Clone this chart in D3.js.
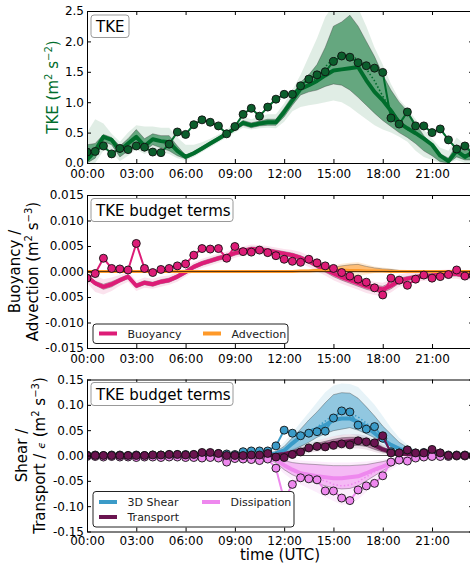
<!DOCTYPE html>
<html>
<head>
<meta charset="utf-8">
<script src="https://cdn.jsdelivr.net/npm/d3@7"></script>
<style>
  body { margin: 0; background: #fff; }
  svg { display: block; font-family: "DejaVu Sans", sans-serif; }
</style>
</head>
<body>
<div id="svg-container"></div>
<script>
////////////////////////////////////////////////////////////////////
////////////////////////////  Data  ////////////////////////////////
// half-hourly time axis (hours UTC)
const hours = [
  0, 0.5, 1, 1.5, 2, 2.5, 3, 3.5, 4, 4.5, 5, 5.5,
  6, 6.5, 7, 7.5, 8, 8.5, 9, 9.5, 10, 10.5, 11, 11.5,
  12, 12.5, 13, 13.5, 14, 14.5, 15, 15.5, 16, 16.5, 17, 17.5,
  18, 18.5, 19, 19.5, 20, 20.5, 21, 21.5, 22, 22.5, 23, 23.5
];
const xTicks = [0, 3, 6, 9, 12, 15, 18, 21];
const xTickLabels = ["00:00", "03:00", "06:00", "09:00", "12:00", "15:00", "18:00", "21:00"];

const tkeTicks = [0, 0.5, 1, 1.5, 2, 2.5];
const budgetTicks = [-0.015, -0.01, -0.005, 0, 0.005, 0.01, 0.015];
const shearTicks = [-0.15, -0.1, -0.05, 0, 0.05, 0.1, 0.15];

// TKE (m2 s-2)
const tkeObs = [
  0.18, 0.19, 0.28, 0.15, 0.24, 0.22, 0.28, 0.26, 0.18, 0.17, 0.31, 0.51,
  0.47, 0.63, 0.71, 0.67, 0.61, 0.48, 0.60, 0.80, 0.90, 0.77, 0.92, 1.05,
  1.13, 1.13, 1.27, 1.38, 1.45, 1.50, 1.67, 1.76, 1.74, 1.65, 1.60, 1.56,
  1.49, 0.74, 0.64, 0.84, 0.61, 0.61, 0.50, 0.56, 0.38, 0.23, 0.28, 0.15
];
const tkeMean = [
  0.05, 0.20, 0.43, 0.38, 0.20, 0.32, 0.43, 0.28, 0.39, 0.36, 0.34, 0.20,
  0.10, 0.16, 0.24, 0.32, 0.40, 0.48, 0.57, 0.66, 0.62, 0.65, 0.67, 0.67,
  0.84, 1.03, 1.22, 1.28, 1.35, 1.44, 1.52, 1.54, 1.56, 1.58, 1.36, 1.17,
  1.03, 0.86, 0.66, 0.57, 0.49, 0.40, 0.30, 0.12, 0.03, 0.20, 0.10, 0.18
];
const tkeMed = [
  0.05, 0.20, 0.43, 0.38, 0.20, 0.32, 0.43, 0.28, 0.39, 0.36, 0.34, 0.20,
  0.10, 0.16, 0.24, 0.32, 0.40, 0.48, 0.57, 0.66, 0.62, 0.65, 0.67, 0.67,
  0.84, 1.03, 1.22, 1.30, 1.40, 1.58, 1.72, 1.78, 1.77, 1.70, 1.55, 1.35,
  1.10, 0.88, 0.70, 0.55, 0.49, 0.40, 0.30, 0.12, 0.03, 0.20, 0.10, 0.18
];
const tkeIqrLo = [
  0.00, 0.08, 0.35, 0.30, 0.10, 0.20, 0.30, 0.20, 0.30, 0.25, 0.20, 0.12,
  0.07, 0.13, 0.21, 0.29, 0.37, 0.45, 0.54, 0.62, 0.58, 0.61, 0.62, 0.62,
  0.76, 0.95, 1.12, 1.17, 1.20, 1.26, 1.30, 1.28, 1.20, 1.08, 0.95, 0.82,
  0.70, 0.60, 0.50, 0.42, 0.32, 0.20, 0.12, 0.02, 0.00, 0.10, 0.05, 0.05
];
const tkeIqrHi = [
  0.30, 0.32, 0.47, 0.42, 0.28, 0.40, 0.55, 0.40, 0.48, 0.45, 0.45, 0.28,
  0.13, 0.19, 0.27, 0.35, 0.43, 0.51, 0.60, 0.70, 0.66, 0.69, 0.72, 0.72,
  0.90, 1.10, 1.33, 1.45, 1.62, 1.90, 2.25, 2.32, 2.43, 2.25, 2.00, 1.75,
  1.45, 1.20, 1.00, 0.85, 0.65, 0.45, 0.30, 0.15, 0.08, 0.30, 0.20, 0.25
];
const tkeRngLo = [
  0.00, 0.00, 0.20, 0.18, 0.03, 0.12, 0.22, 0.15, 0.22, 0.18, 0.15, 0.08,
  0.04, 0.10, 0.18, 0.26, 0.34, 0.42, 0.50, 0.58, 0.55, 0.57, 0.58, 0.57,
  0.68, 0.85, 0.92, 0.95, 0.97, 1.00, 1.03, 1.00, 0.92, 0.82, 0.72, 0.62,
  0.55, 0.50, 0.43, 0.35, 0.20, 0.10, 0.05, 0.00, 0.00, 0.05, 0.00, 0.00
];
const tkeRngHi = [
  0.50, 0.72, 0.65, 0.48, 0.35, 0.50, 0.62, 0.60, 0.60, 0.58, 0.58, 0.42,
  0.30, 0.30, 0.34, 0.40, 0.47, 0.55, 0.65, 0.76, 0.72, 0.76, 0.80, 0.80,
  0.98, 1.20, 1.45, 1.75, 2.05, 2.40, 2.60, 2.65, 2.70, 2.55, 2.25, 1.90,
  1.62, 1.30, 1.05, 0.90, 0.72, 0.55, 0.40, 0.25, 0.20, 0.42, 0.30, 0.30
];

// Buoyancy (m2 s-3)
const buoyObs = [
  -0.0013, -0.0004, 0.0026, 0.0006, 0.0005, 0.0003, 0.0055, 0.0006, -0.0002, 0.0004, 0.0006, 0.0011,
  0.0015, 0.0032, 0.0045, 0.0044, 0.0045, 0.0026, 0.0049, 0.0039, 0.0038, 0.0042, 0.0037, 0.0031,
  0.0024, 0.0020, 0.0018, 0.0024, 0.0017, 0.0011, 0.0006, -0.0002, -0.0009, -0.0015, -0.0021, -0.0032,
  -0.0046, -0.0013, -0.0017, -0.0027, -0.0015, -0.0007, -0.0013, -0.0010, -0.0006, 0.0003, -0.0009, -0.0008
];
const buoyMean = [
  -0.0010, -0.0023, -0.0030, -0.0025, -0.0017, -0.0010, -0.0028, -0.0022, -0.0025, -0.0020, -0.0017, -0.0010,
  -0.0001, 0.0009, 0.0016, 0.0021, 0.0026, 0.0030, 0.0036, 0.0040, 0.0044, 0.0043, 0.0041, 0.0038,
  0.0035, 0.0032, 0.0027, 0.0020, 0.0012, 0.0004, -0.0004, -0.0011, -0.0017, -0.0023, -0.0029, -0.0033,
  -0.0035, -0.0028, -0.0018, -0.0014, -0.0011, -0.0009, -0.0008, -0.0006, -0.0005, -0.0005, -0.0008, -0.0008
];
const buoyIqrLo = [
  -0.0014, -0.0027, -0.0035, -0.0030, -0.0021, -0.0014, -0.0032, -0.0026, -0.0029, -0.0024, -0.0021, -0.0014,
  -0.0005, 0.0005, 0.0012, 0.0017, 0.0022, 0.0026, 0.0032, 0.0036, 0.0040, 0.0039, 0.0037, 0.0034,
  0.0031, 0.0028, 0.0023, 0.0016, 0.0007, -0.0001, -0.0010, -0.0017, -0.0023, -0.0029, -0.0035, -0.0039,
  -0.0041, -0.0034, -0.0023, -0.0018, -0.0015, -0.0013, -0.0012, -0.0010, -0.0009, -0.0009, -0.0012, -0.0012
];
const buoyIqrHi = [
  -0.0006, -0.0019, -0.0025, -0.0020, -0.0013, -0.0006, -0.0024, -0.0018, -0.0021, -0.0016, -0.0013, -0.0006,
  0.0003, 0.0013, 0.0020, 0.0025, 0.0030, 0.0034, 0.0040, 0.0044, 0.0048, 0.0047, 0.0045, 0.0042,
  0.0039, 0.0036, 0.0031, 0.0024, 0.0017, 0.0009, 0.0002, -0.0005, -0.0011, -0.0017, -0.0023, -0.0027,
  -0.0029, -0.0022, -0.0013, -0.0010, -0.0007, -0.0005, -0.0004, -0.0002, -0.0001, -0.0001, -0.0004, -0.0004
];
const buoyRngLo = [
  -0.0022, -0.0040, -0.0045, -0.0038, -0.0028, -0.0020, -0.0038, -0.0032, -0.0034, -0.0030, -0.0026, -0.0020,
  -0.0010, 0.0000, 0.0007, 0.0012, 0.0017, 0.0021, 0.0027, 0.0031, 0.0035, 0.0034, 0.0032, 0.0029,
  0.0026, 0.0022, 0.0016, 0.0009, 0.0000, -0.0008, -0.0017, -0.0024, -0.0030, -0.0036, -0.0042, -0.0046,
  -0.0048, -0.0041, -0.0030, -0.0025, -0.0020, -0.0018, -0.0017, -0.0015, -0.0014, -0.0014, -0.0017, -0.0017
];
const buoyRngHi = [
  0.0000, -0.0008, -0.0015, -0.0012, -0.0007, 0.0000, -0.0018, -0.0012, -0.0014, -0.0010, -0.0008, 0.0000,
  0.0008, 0.0018, 0.0025, 0.0030, 0.0035, 0.0039, 0.0045, 0.0049, 0.0053, 0.0052, 0.0050, 0.0047,
  0.0044, 0.0042, 0.0038, 0.0031, 0.0024, 0.0016, 0.0009, 0.0002, -0.0004, -0.0010, -0.0016, -0.0020,
  -0.0022, -0.0015, -0.0006, -0.0003, 0.0000, 0.0000, 0.0001, 0.0003, 0.0004, 0.0004, 0.0001, 0.0001
];

// Advection (m2 s-3)
const advMean = [
  0, 0, 0, 0, 0, 0, 0, 0, 0, 0, 0, 0,
  0, 0, 0, 0, 0, 0, 0, 0, 0, 0, 0, 0,
  0, 0, 0.0001, 0.0001, 0.0002, 0.0002, 0.0003, 0.0003, 0.0002, 0.0002, 0.0001, 0.0001,
  0.0001, 0, 0, 0, 0, 0, 0, 0, 0, 0, 0, 0
];
const advIqrLo = [
  -0.0001, -0.0001, -0.0001, -0.0001, -0.0001, -0.0001, -0.0001, -0.0001, -0.0001, -0.0001, -0.0001, -0.0001,
  -0.0001, -0.0001, -0.0001, -0.0001, -0.0001, -0.0001, -0.0001, -0.0001, -0.0001, -0.0001, -0.0001, -0.0001,
  -0.0001, -0.0001, -0.0001, -0.0001, -0.0001, -0.0001, -0.0001, -0.0001, -0.0001, -0.0001, -0.0001, -0.0001,
  -0.0001, -0.0001, -0.0001, -0.0001, -0.0001, -0.0001, -0.0001, -0.0001, -0.0001, -0.0001, -0.0001, -0.0001
];
const advIqrHi = [
  0.0001, 0.0001, 0.0001, 0.0001, 0.0001, 0.0001, 0.0001, 0.0001, 0.0001, 0.0001, 0.0001, 0.0001,
  0.0001, 0.0001, 0.0001, 0.0001, 0.0001, 0.0001, 0.0001, 0.0001, 0.0001, 0.0001, 0.0001, 0.0001,
  0.0001, 0.0001, 0.0002, 0.0002, 0.0004, 0.0006, 0.0008, 0.0011, 0.0013, 0.0014, 0.0010, 0.0007,
  0.0005, 0.0004, 0.0002, 0.0001, 0.0001, 0.0001, 0.0001, 0.0001, 0.0001, 0.0001, 0.0001, 0.0001
];
const advRngLo = [
  -0.0002, -0.0002, -0.0002, -0.0002, -0.0002, -0.0002, -0.0002, -0.0002, -0.0002, -0.0002, -0.0002, -0.0002,
  -0.0002, -0.0002, -0.0002, -0.0002, -0.0002, -0.0002, -0.0002, -0.0002, -0.0002, -0.0002, -0.0002, -0.0002,
  -0.0002, -0.0002, -0.0002, -0.0002, -0.0002, -0.0003, -0.0006, -0.0009, -0.0010, -0.0009, -0.0006, -0.0003,
  -0.0002, -0.0002, -0.0002, -0.0002, -0.0002, -0.0002, -0.0002, -0.0002, -0.0002, -0.0002, -0.0002, -0.0002
];
const advRngHi = [
  0.0002, 0.0002, 0.0002, 0.0002, 0.0002, 0.0002, 0.0002, 0.0002, 0.0002, 0.0002, 0.0002, 0.0002,
  0.0002, 0.0002, 0.0002, 0.0002, 0.0002, 0.0002, 0.0002, 0.0002, 0.0002, 0.0002, 0.0002, 0.0002,
  0.0002, 0.0002, 0.0003, 0.0004, 0.0007, 0.0010, 0.0012, 0.0015, 0.0017, 0.0018, 0.0014, 0.0010,
  0.0008, 0.0006, 0.0004, 0.0003, 0.0002, 0.0002, 0.0002, 0.0002, 0.0002, 0.0002, 0.0002, 0.0002
];

// 3D shear (m2 s-3)
const shearObs = [
  0.001, 0.001, 0.000, 0.001, 0.001, 0.000, 0.001, 0.000, 0.001, 0.001, 0.002, 0.002,
  0.002, 0.002, 0.004, 0.003, 0.004, 0.003, 0.002, 0.0075, 0.009, 0.009, 0.009, 0.019,
  0.050, 0.044, 0.039, 0.044, 0.047, 0.048, 0.074, 0.088, 0.086, 0.060, 0.052, 0.057,
  0.034, 0.0075, 0.005, 0.011, 0.005, 0.006, 0.010, 0.005, 0.001, 0.001, 0.001, 0.000
];
const shearMean = [
  0.001, 0.001, 0.001, 0.001, 0.001, 0.001, 0.001, 0.001, 0.001, 0.001, 0.001, 0.001,
  0.001, 0.001, 0.001, 0.001, 0.001, 0.001, 0.001, 0.001, 0.001, 0.001, 0.002, 0.004,
  0.010, 0.024, 0.037, 0.047, 0.052, 0.060, 0.070, 0.073, 0.073, 0.066, 0.057, 0.044,
  0.031, 0.021, 0.013, 0.008, 0.005, 0.002, 0.001, 0.001, 0.001, 0.001, 0.001, 0.001
];
const shearMed = [
  0.001, 0.001, 0.001, 0.001, 0.001, 0.001, 0.001, 0.001, 0.001, 0.001, 0.001, 0.001,
  0.001, 0.001, 0.001, 0.001, 0.001, 0.001, 0.001, 0.001, 0.001, 0.001, 0.002, 0.004,
  0.010, 0.024, 0.037, 0.048, 0.056, 0.068, 0.080, 0.085, 0.084, 0.076, 0.064, 0.048,
  0.033, 0.021, 0.013, 0.008, 0.005, 0.002, 0.001, 0.001, 0.001, 0.001, 0.001, 0.001
];
const shearIqrLo = [
  0.000, 0.000, 0.000, 0.000, 0.000, 0.000, 0.000, 0.000, 0.000, 0.000, 0.000, 0.000,
  0.000, 0.000, 0.000, 0.000, 0.000, 0.000, 0.000, 0.000, 0.000, 0.000, 0.000, 0.001,
  0.004, 0.010, 0.018, 0.026, 0.036, 0.043, 0.049, 0.052, 0.055, 0.050, 0.043, 0.035,
  0.027, 0.019, 0.011, 0.007, 0.004, 0.001, 0.000, 0.000, 0.000, 0.000, 0.000, 0.000
];
const shearIqrHi = [
  0.002, 0.002, 0.002, 0.002, 0.002, 0.002, 0.002, 0.002, 0.002, 0.002, 0.002, 0.002,
  0.002, 0.002, 0.002, 0.002, 0.002, 0.002, 0.002, 0.002, 0.002, 0.002, 0.004, 0.008,
  0.018, 0.035, 0.052, 0.070, 0.086, 0.104, 0.120, 0.124, 0.123, 0.113, 0.096, 0.078,
  0.058, 0.042, 0.026, 0.016, 0.009, 0.005, 0.002, 0.002, 0.002, 0.002, 0.002, 0.002
];
const shearRngLo = [
  -0.001, -0.001, -0.001, -0.001, -0.001, -0.001, -0.001, -0.001, -0.001, -0.001, -0.001, -0.001,
  -0.001, -0.001, -0.001, -0.001, -0.001, -0.001, -0.001, -0.001, -0.001, -0.001, -0.001, 0.000,
  0.002, 0.006, 0.012, 0.020, 0.028, 0.034, 0.038, 0.040, 0.042, 0.038, 0.032, 0.025,
  0.019, 0.013, 0.007, 0.004, 0.002, 0.000, -0.001, -0.001, -0.001, -0.001, -0.001, -0.001
];
const shearRngHi = [
  0.003, 0.003, 0.003, 0.003, 0.003, 0.003, 0.003, 0.003, 0.003, 0.003, 0.003, 0.003,
  0.003, 0.003, 0.003, 0.003, 0.003, 0.003, 0.003, 0.003, 0.003, 0.003, 0.006, 0.012,
  0.026, 0.045, 0.065, 0.085, 0.105, 0.125, 0.138, 0.142, 0.141, 0.135, 0.118, 0.100,
  0.078, 0.055, 0.035, 0.021, 0.012, 0.007, 0.003, 0.003, 0.003, 0.003, 0.003, 0.003
];

// Transport (m2 s-3)
const transObs = [
  0.000, 0.000, 0.000, 0.000, 0.000, 0.000, 0.000, 0.000, 0.001, 0.001, 0.002, 0.002,
  0.001, 0.002, 0.006, 0.006, 0.004, 0.000, 0.000, 0.000, 0.001, 0.001, 0.004, -0.003,
  -0.004, 0.002, 0.007, 0.015, 0.018, 0.017, 0.020, 0.023, 0.021, 0.029, 0.027, 0.025,
  0.039, 0.005, 0.005, 0.011, 0.005, 0.005, 0.012, 0.005, 0.000, 0.000, 0.000, 0.000
];
const transMean = [
  0.000, 0.000, 0.000, 0.000, 0.000, 0.000, 0.000, 0.000, 0.000, 0.000, 0.000, 0.000,
  0.000, 0.000, 0.000, 0.000, 0.000, 0.000, 0.000, 0.000, 0.000, 0.000, 0.000, 0.001,
  0.003, 0.006, 0.010, 0.014, 0.018, 0.021, 0.024, 0.026, 0.028, 0.030, 0.028, 0.020,
  0.012, 0.007, 0.004, 0.003, 0.002, 0.001, 0.000, 0.000, 0.000, 0.000, 0.000, 0.000
];
const transIqrLo = [
  -0.001, -0.001, -0.001, -0.001, -0.001, -0.001, -0.001, -0.001, -0.001, -0.001, -0.001, -0.001,
  -0.001, -0.001, -0.001, -0.001, -0.001, -0.001, -0.001, -0.001, -0.001, -0.001, -0.001, 0.000,
  0.001, 0.003, 0.006, 0.010, 0.013, 0.015, 0.017, 0.018, 0.019, 0.020, 0.018, 0.012,
  0.007, 0.004, 0.002, 0.001, 0.000, 0.000, -0.001, -0.001, -0.001, -0.001, -0.001, -0.001
];
const transIqrHi = [
  0.001, 0.001, 0.001, 0.001, 0.001, 0.001, 0.001, 0.001, 0.001, 0.001, 0.001, 0.001,
  0.001, 0.001, 0.001, 0.001, 0.001, 0.001, 0.001, 0.001, 0.001, 0.001, 0.002, 0.003,
  0.006, 0.010, 0.014, 0.018, 0.024, 0.028, 0.032, 0.035, 0.036, 0.036, 0.033, 0.026,
  0.017, 0.010, 0.006, 0.005, 0.003, 0.002, 0.001, 0.001, 0.001, 0.001, 0.001, 0.001
];
const transRngLo = [
  -0.002, -0.002, -0.002, -0.002, -0.002, -0.002, -0.002, -0.002, -0.002, -0.002, -0.002, -0.002,
  -0.002, -0.002, -0.002, -0.002, -0.002, -0.002, -0.002, -0.002, -0.002, -0.002, -0.002, -0.001,
  -0.001, 0.000, 0.002, 0.005, 0.008, 0.010, 0.012, 0.013, 0.014, 0.014, 0.012, 0.007,
  0.003, 0.001, 0.000, -0.001, -0.001, -0.001, -0.002, -0.002, -0.002, -0.002, -0.002, -0.002
];
const transRngHi = [
  0.002, 0.002, 0.002, 0.002, 0.002, 0.002, 0.002, 0.002, 0.002, 0.002, 0.002, 0.002,
  0.002, 0.002, 0.002, 0.002, 0.002, 0.002, 0.002, 0.002, 0.002, 0.002, 0.003, 0.005,
  0.009, 0.014, 0.019, 0.024, 0.029, 0.034, 0.038, 0.041, 0.042, 0.042, 0.039, 0.031,
  0.022, 0.014, 0.009, 0.007, 0.005, 0.003, 0.002, 0.002, 0.002, 0.002, 0.002, 0.002
];

// Dissipation (m2 s-3)
const dissObs = [
  -0.002, -0.002, -0.003, -0.002, -0.003, -0.003, -0.004, -0.003, -0.003, -0.004, -0.003, -0.003,
  -0.004, -0.004, -0.005, -0.004, -0.005, -0.013, -0.006, -0.007, -0.008, -0.010, -0.007, -0.025,
  -0.088, -0.057, -0.044, -0.046, -0.048, -0.070, -0.070, -0.084, -0.089, -0.068, -0.060, -0.055,
  -0.040, -0.013, -0.009, -0.011, -0.005, -0.003, -0.002, -0.002, -0.002, -0.001, -0.001, -0.001
];
const dissMean = [
  -0.002, -0.003, -0.003, -0.003, -0.003, -0.003, -0.003, -0.003, -0.003, -0.003, -0.003, -0.003,
  -0.003, -0.003, -0.004, -0.004, -0.004, -0.004, -0.005, -0.005, -0.005, -0.005, -0.006, -0.009,
  -0.019, -0.028, -0.035, -0.038, -0.041, -0.043, -0.045, -0.045, -0.043, -0.041, -0.035, -0.028,
  -0.022, -0.015, -0.009, -0.006, -0.003, -0.002, -0.001, -0.001, -0.001, -0.001, -0.001, -0.001
];
const dissMed = [
  -0.002, -0.003, -0.003, -0.003, -0.003, -0.003, -0.003, -0.003, -0.003, -0.003, -0.003, -0.003,
  -0.003, -0.003, -0.004, -0.004, -0.004, -0.004, -0.005, -0.005, -0.005, -0.005, -0.006, -0.009,
  -0.019, -0.030, -0.038, -0.042, -0.046, -0.050, -0.057, -0.060, -0.058, -0.052, -0.042, -0.032,
  -0.024, -0.015, -0.009, -0.006, -0.003, -0.002, -0.001, -0.001, -0.001, -0.001, -0.001, -0.001
];
const dissIqrLo = [
  -0.005, -0.005, -0.005, -0.005, -0.005, -0.005, -0.005, -0.005, -0.005, -0.005, -0.005, -0.005,
  -0.005, -0.005, -0.005, -0.005, -0.005, -0.005, -0.007, -0.007, -0.007, -0.007, -0.009, -0.014,
  -0.028, -0.038, -0.045, -0.050, -0.055, -0.060, -0.064, -0.066, -0.065, -0.060, -0.050, -0.040,
  -0.030, -0.021, -0.013, -0.009, -0.005, -0.004, -0.003, -0.003, -0.003, -0.003, -0.003, -0.003
];
const dissIqrHi = [
  -0.001, -0.001, -0.001, -0.001, -0.001, -0.001, -0.001, -0.001, -0.001, -0.001, -0.001, -0.001,
  -0.001, -0.001, -0.001, -0.001, -0.001, -0.001, -0.003, -0.003, -0.003, -0.003, -0.003, -0.005,
  -0.010, -0.014, -0.016, -0.017, -0.018, -0.019, -0.020, -0.020, -0.020, -0.019, -0.018, -0.015,
  -0.012, -0.008, -0.005, -0.003, -0.001, 0.000, 0.000, 0.000, 0.000, 0.000, 0.000, 0.000
];
const dissRngLo = [
  -0.007, -0.007, -0.007, -0.007, -0.007, -0.007, -0.007, -0.007, -0.007, -0.007, -0.007, -0.007,
  -0.007, -0.007, -0.007, -0.007, -0.007, -0.007, -0.009, -0.009, -0.009, -0.009, -0.012, -0.020,
  -0.036, -0.048, -0.057, -0.065, -0.073, -0.082, -0.090, -0.097, -0.095, -0.087, -0.072, -0.056,
  -0.040, -0.028, -0.018, -0.012, -0.007, -0.005, -0.004, -0.004, -0.004, -0.004, -0.004, -0.004
];
const dissRngHi = [
  0.000, 0.000, 0.000, 0.000, 0.000, 0.000, 0.000, 0.000, 0.000, 0.000, 0.000, 0.000,
  0.000, 0.000, 0.000, 0.000, 0.000, 0.000, -0.001, -0.001, -0.001, -0.001, -0.001, -0.002,
  -0.005, -0.008, -0.010, -0.011, -0.012, -0.013, -0.014, -0.014, -0.014, -0.013, -0.012, -0.010,
  -0.008, -0.005, -0.003, -0.002, 0.000, 0.001, 0.001, 0.001, 0.001, 0.001, 0.001, 0.001
];

// colours
const cTke = "#006d2c";
const cBuoy = "#dd1c77";
const cAdv = "#fe9929";
const cShear = "#3b9bc8";
const cTrans = "#6a1450";
const cDiss = "#ee88ee";

////////////////////////////////////////////////////////////////////
////////////////////////////  Init  ////////////////////////////////
const width = 470;
const height = 563;
const fontFamily = "DejaVu Sans";

const svg = d3
  .select("#svg-container")
  .append("svg")
  .attr("width", width)
  .attr("height", height);

const xScale = d3.scaleLinear().domain([0, 23.5]).range([87, 473.1]);

const fmtMinus = (f) => (d) => d3.format(f)(d).replace("\u2212", "-");

function makePanel(id, top, bottom, domain) {
  const y = d3.scaleLinear().domain(domain).range([bottom, top]);
  svg
    .append("clipPath")
    .attr("id", "clip-" + id)
    .append("rect")
    .attr("x", xScale.range()[0])
    .attr("y", top)
    .attr("width", xScale.range()[1] - xScale.range()[0])
    .attr("height", bottom - top);
  const plot = svg.append("g").attr("clip-path", `url(#clip-${id})`);
  return { id, top, bottom, y, plot };
}

// filled spread band
function drawBand(p, lo, hi, color, opacity, outline) {
  const area = d3
    .area()
    .x((d, i) => xScale(hours[i]))
    .y0((d, i) => p.y(lo[i]))
    .y1((d, i) => p.y(hi[i]));
  p.plot
    .append("path")
    .datum(hours)
    .attr("d", area)
    .attr("fill", color)
    .attr("fill-opacity", opacity)
    .attr("stroke", outline ? "#333" : "none")
    .attr("stroke-opacity", 0.45)
    .attr("stroke-width", 0.8);
}

function drawLine(p, vals, color, w, dash) {
  const line = d3
    .line()
    .x((d, i) => xScale(hours[i]))
    .y((d) => p.y(d));
  p.plot
    .append("path")
    .datum(vals)
    .attr("d", line)
    .attr("fill", "none")
    .attr("stroke", color)
    .attr("stroke-width", w)
    .attr("stroke-linejoin", "round")
    .attr("stroke-dasharray", dash || null);
}

function drawObs(p, vals, color, fill) {
  drawLine(p, vals, color, 2);
  p.plot
    .append("g")
    .selectAll("circle")
    .data(vals)
    .enter()
    .append("circle")
    .attr("cx", (d, i) => xScale(hours[i]))
    .attr("cy", (d) => p.y(d))
    .attr("r", 4)
    .attr("fill", fill || color)
    .attr("stroke", "#111")
    .attr("stroke-width", 0.9);
}

function drawAxes(p, ticks, fmt, pad) {
  const styleAxis = (g) => {
    g.attr("font-family", fontFamily).attr("font-size", 12);
    g.select(".domain").attr("stroke", "#000").attr("stroke-width", 1);
    g.selectAll(".tick line").attr("stroke", "#000");
    g.selectAll(".tick text").attr("fill", "#000");
  };
  svg
    .append("g")
    .attr("transform", `translate(0, ${p.bottom})`)
    .call(
      d3.axisBottom(xScale).tickValues(xTicks).tickSizeInner(-4).tickSizeOuter(0).tickPadding(pad)
        .tickFormat((d, i) => xTickLabels[i])
    )
    .call(styleAxis);
  svg
    .append("g")
    .attr("transform", `translate(0, ${p.top})`)
    .call(d3.axisTop(xScale).tickValues(xTicks).tickSizeInner(-4).tickSizeOuter(0).tickFormat(""))
    .call(styleAxis);
  svg
    .append("g")
    .attr("transform", `translate(${xScale.range()[0]}, 0)`)
    .call(d3.axisLeft(p.y).tickValues(ticks).tickSizeInner(-4).tickSizeOuter(0).tickPadding(3).tickFormat(fmtMinus(fmt)))
    .call(styleAxis);
  svg
    .append("g")
    .attr("transform", `translate(${xScale.range()[1]}, 0)`)
    .call(d3.axisRight(p.y).tickValues(ticks).tickSizeInner(-4).tickSizeOuter(0).tickFormat(""))
    .call(styleAxis);
}

function zeroLine(p, color, w, op) {
  p.plot
    .append("line")
    .attr("x1", xScale.range()[0])
    .attr("x2", xScale.range()[1])
    .attr("y1", p.y(0))
    .attr("y2", p.y(0))
    .attr("stroke", color)
    .attr("stroke-width", w)
    .attr("stroke-opacity", op);
}

function titleBox(x, y, w, h, label) {
  svg
    .append("rect")
    .attr("x", x)
    .attr("y", y)
    .attr("width", w)
    .attr("height", h)
    .attr("rx", 3)
    .attr("fill", "#fff")
    .attr("stroke", "#999")
    .attr("stroke-width", 1);
  svg
    .append("text")
    .attr("x", x + 5)
    .attr("y", y + h / 2 + 5.5)
    .attr("font-family", fontFamily)
    .attr("font-size", 15)
    .text(label);
}

// rotated axis label with superscripts: parts = [[text, sup?, italic?], ...]
function yLabel(x, yc, parts, color) {
  const t = svg
    .append("text")
    .attr("transform", `translate(${x}, ${yc}) rotate(-90)`)
    .attr("text-anchor", "middle")
    .attr("font-family", fontFamily)
    .attr("font-size", 15)
    .attr("fill", color || "#000");
  let raised = false;
  parts.forEach(([s, sup, ital]) => {
    const ts = t.append("tspan").text(s);
    if (sup && !raised) { ts.attr("dy", -6).attr("font-size", 10); raised = true; }
    else if (sup) ts.attr("font-size", 10);
    else if (raised) { ts.attr("dy", 6); raised = false; }
    if (ital) ts.attr("font-style", "italic").attr("font-size", 11);
  });
}

function legend(x, y, w, h, items) {
  svg
    .append("rect")
    .attr("x", x)
    .attr("y", y)
    .attr("width", w)
    .attr("height", h)
    .attr("rx", 3)
    .attr("fill", "#fff")
    .attr("stroke", "#222")
    .attr("stroke-width", 1);
  items.forEach((it) => {
    svg
      .append("line")
      .attr("x1", it.x)
      .attr("x2", it.x + 18)
      .attr("y1", it.y)
      .attr("y2", it.y)
      .attr("stroke", it.color)
      .attr("stroke-width", 4);
    svg
      .append("text")
      .attr("x", it.x + 28.5)
      .attr("y", it.y + 4)
      .attr("font-family", fontFamily)
      .attr("font-size", 11)
      .attr("fill", "#222")
      .text(it.label);
  });
}

////////////////////////////////////////////////////////////////////
////////////////////////////  Panels  //////////////////////////////
const pTke = makePanel("tke", 11, 163, [0, 2.5]);
const pBud = makePanel("bud", 195, 348, [-0.015, 0.015]);
const pShe = makePanel("she", 379.5, 531.5, [-0.15, 0.15]);

// TKE
drawBand(pTke, tkeRngLo, tkeRngHi, cTke, 0.12, false);
drawBand(pTke, tkeIqrLo, tkeIqrHi, cTke, 0.55, true);
drawLine(pTke, tkeMean, cTke, 4);
drawLine(pTke, tkeMed, cTke, 1.6, "1.5,2.2");
drawObs(pTke, tkeObs, cTke, "#0b5e2c");

// buoyancy / advection
drawBand(pBud, buoyRngLo, buoyRngHi, cBuoy, 0.12, false);
drawBand(pBud, advRngLo, advRngHi, cAdv, 0.2, false);
drawBand(pBud, buoyIqrLo, buoyIqrHi, cBuoy, 0.45, true);
drawBand(pBud, advIqrLo, advIqrHi, cAdv, 0.55, true);
drawLine(pBud, buoyMean, cBuoy, 4);
drawLine(pBud, advMean, cAdv, 3);
zeroLine(pBud, "#000", 1, 0.65);
drawObs(pBud, buoyObs, cBuoy);

// shear / transport / dissipation
zeroLine(pShe, "#555", 1, 1);
drawBand(pShe, shearRngLo, shearRngHi, cShear, 0.12, false);
drawBand(pShe, dissRngLo, dissRngHi, cDiss, 0.15, false);
drawBand(pShe, transRngLo, transRngHi, cTrans, 0.12, false);
drawBand(pShe, shearIqrLo, shearIqrHi, cShear, 0.5, true);
drawBand(pShe, dissIqrLo, dissIqrHi, cDiss, 0.5, true);
drawBand(pShe, transIqrLo, transIqrHi, cTrans, 0.45, true);
drawLine(pShe, shearMean, cShear, 4);
drawLine(pShe, shearMed, cShear, 1.5, "1.5,2.2");
drawLine(pShe, dissMean, cDiss, 4);
drawLine(pShe, dissMed, cDiss, 1.5, "1.5,2.2");
drawLine(pShe, transMean, cTrans, 4);
drawObs(pShe, shearObs, cShear);
drawObs(pShe, dissObs, cDiss);
drawObs(pShe, transObs, cTrans);

// axes & frames
drawAxes(pTke, tkeTicks, ".1f", 6);
drawAxes(pBud, budgetTicks, ".3f", 6);
drawAxes(pShe, shearTicks, ".2f", 5);

// titles
titleBox(91, 15, 38, 22.5, "TKE");
titleBox(91, 198.5, 142, 23, "TKE budget terms");
titleBox(91, 382.5, 142, 23, "TKE budget terms");

// legends
legend(93, 324, 195, 19.5, [
  { x: 99, y: 333.5, color: cBuoy, label: "Buoyancy" },
  { x: 203, y: 333.5, color: cAdv, label: "Advection" }
]);
legend(93, 491.5, 201, 35.5, [
  { x: 99, y: 502, color: cShear, label: "3D Shear" },
  { x: 202, y: 502, color: cDiss, label: "Dissipation" },
  { x: 99, y: 517, color: cTrans, label: "Transport" }
]);

// axis labels
yLabel(58, 87, [["TKE (m"], ["2", true], [" s"], ["\u22122", true], [")"]], cTke);
yLabel(19.5, 271.5, [["Buoyancy /"]]);
yLabel(38, 271.5, [["Advection (m"], ["2", true], [" s"], ["\u22123", true], [")"]]);
yLabel(27, 455.5, [["Shear /"]]);
yLabel(44.5, 455.5, [["Transport / "], ["\u03f5", false, true], [" (m"], ["2", true], [" s"], ["\u22123", true], [")"]]);

svg
  .append("text")
  .attr("x", 280)
  .attr("y", 559.5)
  .attr("text-anchor", "middle")
  .attr("font-family", fontFamily)
  .attr("font-size", 15)
  .text("time (UTC)");
</script>
</body>
</html>
